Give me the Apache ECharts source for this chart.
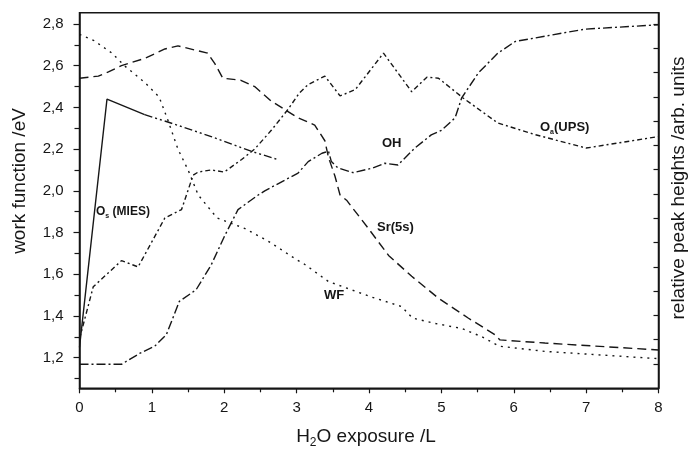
<!DOCTYPE html>
<html>
<head>
<meta charset="utf-8">
<script src="https://cdn.jsdelivr.net/npm/echarts@6/dist/echarts.min.js"></script>
<style>
  html, body { margin: 0; padding: 0; background: #fff; }
  #chart { width: 689px; height: 450px; }
</style>
</head>
<body>
<div id="chart"></div>
<script>
// values, [exposure /L, work function /eV]
var wfData = [[0,2.75],[0.2,2.72],[0.45,2.66],[0.62,2.6],[0.9,2.52],[1.1,2.45],[1.22,2.34],[1.36,2.2],
  [1.5,2.1],[1.64,1.98],[1.9,1.87],[2.28,1.82],[2.6,1.76],[3.0,1.67],[3.1,1.65],[3.44,1.565],[3.64,1.54],
  [4.04,1.49],[4.45,1.445],[4.6,1.39],[4.9,1.365],[5.28,1.34],[5.56,1.3],[5.8,1.255],[6.43,1.23],[8,1.195]];
var srData = [[0,2.54],[0.26,2.55],[0.4,2.57],[0.58,2.6],[0.9,2.635],[1.18,2.68],[1.36,2.695],[1.77,2.66],
  [1.87,2.61],[1.98,2.54],[2.23,2.53],[2.42,2.5],[2.65,2.43],[3.02,2.35],[3.25,2.315],[3.39,2.24],[3.44,2.16],
  [3.53,2.07],[3.6,1.98],[3.69,1.955],[3.99,1.82],[4.27,1.69],[4.59,1.59],[4.96,1.485],[5.37,1.39],[5.74,1.31],
  [5.81,1.285],[6.43,1.27],[8,1.237]];
var miesSolid = [[0,1.25],[0.38,2.44],[0.9,2.365]];
var miesDash = [[0.9,2.365],[1.22,2.33],[1.82,2.26],[2.37,2.19],[2.74,2.15]];
var ohData = [[0,1.168],[0.58,1.168],[0.83,1.22],[1.04,1.255],[1.2,1.31],[1.38,1.47],[1.61,1.525],[1.82,1.645],
  [2.0,1.78],[2.19,1.91],[2.47,1.98],[2.56,2.0],[3.02,2.085],[3.16,2.14],[3.35,2.18],[3.44,2.19],[3.48,2.14],
  [3.57,2.11],[3.78,2.087],[4.04,2.108],[4.22,2.132],[4.4,2.124],[4.63,2.204],[4.86,2.268],[5.0,2.29],
  [5.19,2.35],[5.28,2.445],[5.51,2.565],[5.78,2.66],[6.02,2.716],[6.98,2.775],[8,2.796]];
var oaData = [[0,1.29],[0.19,1.54],[0.58,1.665],[0.81,1.635],[1.18,1.87],[1.41,1.91],[1.57,2.075],[1.64,2.09],
  [1.82,2.1],[2.0,2.09],[2.24,2.15],[2.42,2.2],[2.65,2.29],[2.88,2.39],[3.04,2.47],[3.16,2.51],[3.39,2.55],
  [3.6,2.455],[3.81,2.485],[4.2,2.66],[4.59,2.475],[4.8,2.545],[4.96,2.54],[5.3,2.445],[5.78,2.325],
  [6.29,2.27],[7.0,2.205],[8,2.26]];

// tick values
var yMajor = [1.2,1.4,1.6,1.8,2.0,2.2,2.4,2.6,2.8];
var yMinor = [1.1,1.3,1.5,1.7,1.9,2.1,2.3,2.5,2.7];
var rightTicks = [1,2,3,4,5,6,7,8,9,10,11,12,13,14,15];

var font = '"Liberation Sans", Arial, Helvetica, sans-serif';
var ink = '#161616';

var chart = echarts.init(document.getElementById('chart'));

function line(name, data, dash) {
    return {
        name: name,
        type: 'line',
        data: data,
        symbol: 'none',
        silent: true,
        lineStyle: { color: ink, width: 1.4, type: dash, cap: 'butt' }
    }
}

var option = {
    animation: false,
    backgroundColor: '#fff',
    textStyle: { fontFamily: font },
    grid: {
        left: 79.5, right: 30.5, top: 12.7, bottom: 61.7,
        show: true, borderColor: ink, borderWidth: 1.5, backgroundColor: 'transparent'
    },
    xAxis: {
        type: 'value', min: 0, max: 8, interval: 1,
        axisLine: { show: true, lineStyle: { color: ink, width: 1.5 } },
        axisTick: { show: true, length: 5, lineStyle: { color: ink, width: 1.2 } },
        minorTick: { show: true, splitNumber: 2, length: 4, lineStyle: { color: ink, width: 1.2 } },
        axisLabel: { color: ink, fontSize: 15, margin: 12, fontFamily: font },
        splitLine: { show: false }
    },
    yAxis: [{
        type: 'value', min: 1.053, max: 2.854, position: 'left',
        axisLine: { show: true, lineStyle: { color: ink, width: 1.5 } },
        axisTick: { show: true, length: 6, customValues: yMajor, lineStyle: { color: ink, width: 1.2 } },
        axisLabel: {
            color: ink, fontSize: 15, margin: 16, fontFamily: font, customValues: yMajor,
            formatter: function (v) { return v.toFixed(1).replace('.', ',') }
        },
        splitLine: { show: false }
    }, {
        type: 'value', min: 1.053, max: 2.854, position: 'left',
        axisLine: { show: false },
        axisTick: { show: true, length: 5, customValues: yMinor, lineStyle: { color: ink, width: 1.2 } },
        axisLabel: { show: false },
        splitLine: { show: false }
    }, {
        type: 'value', min: 0, max: 15.46, position: 'right',
        axisLine: { show: true, lineStyle: { color: ink, width: 1.5 } },
        axisTick: { show: true, inside: true, length: 5, customValues: rightTicks, lineStyle: { color: ink, width: 1.2 } },
        axisLabel: { show: false },
        splitLine: { show: false }
    }],
    series: [
        line('WF', wfData, [2, 5]),
        line('Sr(5s)', srData, [9, 5]),
        line('Os (MIES)', miesSolid, 'solid'),
        line('Os (MIES) cont.', miesDash, [8, 3, 2, 3, 2, 3]),
        line('OH', ohData, [9, 3, 2, 3]),
        line('Oa(UPS)', oaData, [5, 3, 2, 3])
    ],
    graphic: [
        {
            type: 'text', x: 20, y: 181, rotation: Math.PI / 2,
            style: { text: 'work function /eV', font: '19px ' + font, fill: ink, align: 'center', verticalAlign: 'middle' }
        },
        {
            type: 'text', x: 679, y: 188, rotation: Math.PI / 2,
            style: { text: 'relative peak heights /arb. units', font: '19px ' + font, fill: ink, align: 'center', verticalAlign: 'middle' }
        },
        {
            type: 'text', x: 366, y: 437,
            style: {
                text: '{n|H}{s|2}{n|O exposure /L}', align: 'center', verticalAlign: 'middle', fill: ink,
                rich: {
                    n: { fontSize: 19, fontFamily: font, color: ink, lineHeight: 24 },
                    s: { fontSize: 12, fontFamily: font, color: ink, verticalAlign: 'bottom', lineHeight: 12 }
                }
            }
        },
        {
            type: 'text', x: 96, y: 212,
            style: {
                text: '{n|O}{s|s}{n| (MIES)}', verticalAlign: 'middle', fill: ink,
                rich: {
                    n: { fontSize: 12, fontWeight: 'bold', fontFamily: font, color: ink, lineHeight: 16 },
                    s: { fontSize: 7, fontWeight: 'bold', fontFamily: font, color: ink, verticalAlign: 'bottom', lineHeight: 7 }
                }
            }
        },
        {
            type: 'text', x: 382, y: 143,
            style: { text: 'OH', font: 'bold 13px ' + font, fill: ink, verticalAlign: 'middle' }
        },
        {
            type: 'text', x: 377, y: 227,
            style: { text: 'Sr(5s)', font: 'bold 13px ' + font, fill: ink, verticalAlign: 'middle' }
        },
        {
            type: 'text', x: 324, y: 295,
            style: { text: 'WF', font: 'bold 13px ' + font, fill: ink, verticalAlign: 'middle' }
        },
        {
            type: 'text', x: 540, y: 127,
            style: {
                text: '{n|O}{s|a}{n|(UPS)}', verticalAlign: 'middle', fill: ink,
                rich: {
                    n: { fontSize: 13, fontWeight: 'bold', fontFamily: font, color: ink, lineHeight: 17 },
                    s: { fontSize: 7, fontWeight: 'bold', fontFamily: font, color: ink, verticalAlign: 'bottom', lineHeight: 7 }
                }
            }
        }
    ]
};

chart.setOption(option);
</script>
</body>
</html>
